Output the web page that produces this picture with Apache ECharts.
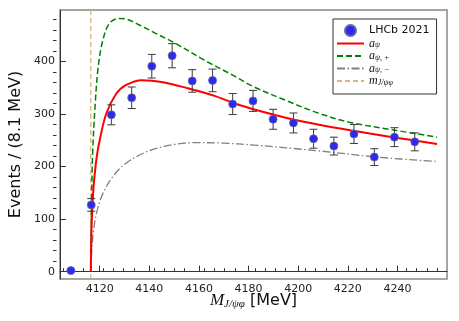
<!DOCTYPE html>
<html><head><meta charset="utf-8">
<script src="https://cdn.jsdelivr.net/npm/echarts@6/dist/echarts.min.js"></script>
<style>html,body{margin:0;padding:0;background:#fff}#c{width:459px;height:321px}</style>
</head><body><div id="c"></div>
<script>
// ---- data ----
const massBins = [4108.4, 4116.6, 4124.7, 4132.9, 4141.0, 4149.2, 4157.3, 4165.5, 4173.6, 4181.8, 4189.9, 4198.1, 4206.2, 4214.4, 4222.5, 4230.7, 4238.8, 4247.0];
const events   = [2, 127, 298.5, 331, 391, 411, 363, 364, 319, 325, 290, 283, 253, 239, 262, 218, 256, 247];
const eventErr = [1.4, 12, 19, 20.5, 22.5, 23, 21.5, 21.5, 20, 20, 19, 19, 18, 17, 18, 16, 18, 17];
const curveA = [[4116.4,0],[4116.7,80],[4117.1,127],[4117.6,165],[4118.7,215],[4120.0,250],[4122.6,300],[4126.6,338],[4130.5,355],[4137.0,364.5],[4146.0,360],[4155.5,349],[4166.0,335],[4174.0,321],[4182.0,309],[4197.5,290],[4209.0,279],[4221.0,269],[4238.0,256],[4256.0,243]];
const curvePlus = [[4116.4,0],[4116.8,150],[4117.2,231],[4118.2,320],[4119.4,390],[4121.3,441],[4124.0,473],[4127.9,482],[4130.5,481],[4135.8,470],[4142.4,454],[4150.3,435],[4162.0,403],[4174.0,373],[4182.0,352],[4195.0,326],[4208.0,302],[4221.0,284],[4238.0,270],[4256.0,256]];
const curveMinus = [[4116.4,0],[4116.8,40],[4117.4,73],[4118.7,111],[4121.3,149],[4125.3,181],[4130.5,206],[4137.0,224],[4142.4,234],[4150.0,242],[4158.0,245.5],[4170.0,244.5],[4182.0,241],[4208.0,230],[4232.0,218],[4256.0,209.5]];
const threshold = 4116.4;
const X_MIN = 4104, X_MAX = 4260, Y_MIN = -14, Y_MAX = 498;
const xMajor = [4120, 4140, 4160, 4180, 4200, 4220, 4240];
const xMinor = [4108, 4112, 4116, 4124, 4128, 4132, 4136, 4144, 4148, 4152, 4156, 4164, 4168, 4172, 4176, 4184, 4188, 4192, 4196, 4204, 4208, 4212, 4216, 4224, 4228, 4232, 4236, 4244, 4248, 4252, 4256];
const yMajor = [0, 100, 200, 300, 400];
const yMinor = [20, 40, 60, 80, 120, 140, 160, 180, 220, 240, 260, 280, 320, 340, 360, 380, 420, 440, 460, 480];
const legendLabels = {
  'LHCb 2021': '{t|LHCb 2021}',
  'a_psi': '{a|a}{s|ψ}',
  'a_psi_plus': '{a|a}{s|ψ, +}',
  'a_psi_minus': '{a|a}{s|ψ, −}',
  'm_thr': '{a|m}{s|J/ψφ}'
};

const chart = echarts.init(document.getElementById('c'), null, {renderer: 'canvas'});
const rect = {left: 53, top: 10, width: 394, height: 269};
const tickFont = {fontFamily: 'DejaVu Sans', fontSize: 11, color: '#222', formatter: v => String(v)};
const serifI = 'Liberation Serif';
const noSym = {opacity: 0};

chart.setOption({
  animation: false,
  backgroundColor: '#fff',
  grid: [
    Object.assign({show: true, borderColor: '#888', borderWidth: 1.5, backgroundColor: 'transparent'}, rect),
    Object.assign({show: false}, rect)
  ],
  xAxis: [
    {
      type: 'value', gridIndex: 0, min: X_MIN, max: X_MAX,
      axisLine: {show: true, lineStyle: {color: '#333', width: 1}},
      axisTick: {show: true, inside: true, length: 6, customValues: xMajor, lineStyle: {color: '#333'}},
      axisLabel: Object.assign({customValues: xMajor, margin: 5}, tickFont),
      splitLine: {show: false},
      name: '{m|M}{s|J/ψφ}{u| [MeV]}',
      nameLocation: 'middle', nameGap: 13, nameMoveOverlap: false,
      nameTextStyle: {
        rich: {
          m: {fontFamily: serifI, fontStyle: 'italic', fontSize: 17, lineHeight: 18, color: '#111'},
          s: {fontFamily: serifI, fontStyle: 'italic', fontSize: 11, lineHeight: 6, verticalAlign: 'bottom', color: '#111'},
          u: {fontFamily: 'DejaVu Sans', fontSize: 16, lineHeight: 18, color: '#111'}
        }
      }
    },
    {
      type: 'value', gridIndex: 1, min: X_MIN, max: X_MAX,
      axisLine: {show: false},
      axisTick: {show: true, inside: true, length: 3.5, customValues: xMinor, lineStyle: {color: '#333'}},
      axisLabel: {show: false},
      splitLine: {show: false}
    }
  ],
  yAxis: [
    {
      type: 'value', gridIndex: 0, min: Y_MIN, max: Y_MAX,
      axisLine: {show: true, lineStyle: {color: '#333', width: 1}},
      axisTick: {show: true, inside: true, length: 6, customValues: yMajor, lineStyle: {color: '#333'}},
      axisLabel: Object.assign({customValues: yMajor, margin: 5}, tickFont),
      splitLine: {show: false},
      name: 'Events / (8.1 MeV)', nameLocation: 'middle', nameRotate: 90, nameGap: 36, nameMoveOverlap: false,
      nameTextStyle: {fontFamily: 'DejaVu Sans', fontSize: 16, color: '#111'}
    },
    {
      type: 'value', gridIndex: 1, min: Y_MIN, max: Y_MAX,
      axisLine: {show: false},
      axisTick: {show: true, inside: true, length: 3.5, customValues: yMinor, lineStyle: {color: '#333'}},
      axisLabel: {show: false},
      splitLine: {show: false}
    }
  ],
  legend: {
    left: 333, top: 19, orient: 'vertical', align: 'left',
    padding: [5, 7, 7, 3],
    itemWidth: 27, itemHeight: 11, itemGap: 0.5,
    backgroundColor: '#fff', borderColor: '#333', borderWidth: 1,
    data: [
      {name: 'LHCb 2021'},
      {name: 'a_psi', itemStyle: noSym},
      {name: 'a_psi_plus', itemStyle: noSym},
      {name: 'a_psi_minus', itemStyle: noSym},
      {name: 'm_thr', itemStyle: noSym}
    ],
    formatter: n => legendLabels[n],
    textStyle: {
      fontFamily: 'DejaVu Sans', fontSize: 11, color: '#111',
      rich: {
        t: {fontFamily: 'DejaVu Sans', fontSize: 11, lineHeight: 13, color: '#111'},
        a: {fontFamily: serifI, fontStyle: 'italic', fontSize: 12, lineHeight: 11, color: '#111'},
        s: {fontFamily: serifI, fontStyle: 'italic', fontSize: 8, lineHeight: 3, verticalAlign: 'bottom', color: '#111'}
      }
    }
  },
  series: [
    {
      name: 'a_psi_minus', type: 'line', symbol: 'none', smooth: 0.35,
      data: curveMinus, z: 2,
      lineStyle: {color: '#808080', width: 1.3, type: [8, 2.5, 1.5, 2.5]}, itemStyle: {color: '#808080'}
    },
    {
      name: 'a_psi_plus', type: 'line', symbol: 'none', smooth: 0.35,
      data: curvePlus, z: 2,
      lineStyle: {color: '#008000', width: 1.5, type: [6, 3]}, itemStyle: {color: '#008000'}
    },
    {
      name: 'a_psi', type: 'line', symbol: 'none', smooth: 0.35,
      data: curveA, z: 2,
      lineStyle: {color: '#ff0000', width: 2}, itemStyle: {color: '#ff0000'}
    },
    {
      name: 'm_thr', type: 'line', symbol: 'none',
      data: [[threshold, Y_MIN], [threshold, Y_MAX]], z: 1,
      lineStyle: {color: '#d2b48c', width: 1.3, type: [5, 3]}, itemStyle: {color: '#d2b48c'}
    },
    {
      name: 'errors', type: 'custom', z: 3,
      data: massBins.map((m, i) => [m, events[i], eventErr[i]]),
      renderItem: function (params, api) {
        const x = api.value(0), y = api.value(1), e = api.value(2);
        const top = api.coord([x, y + e]);
        const bot = api.coord([x, y - e]);
        const cap = 4;
        const st = {stroke: '#3a3a3a', lineWidth: 1};
        return {type: 'group', children: [
          {type: 'line', shape: {x1: top[0], y1: top[1], x2: bot[0], y2: bot[1]}, style: st},
          {type: 'line', shape: {x1: top[0] - cap, y1: top[1], x2: top[0] + cap, y2: top[1]}, style: st},
          {type: 'line', shape: {x1: bot[0] - cap, y1: bot[1], x2: bot[0] + cap, y2: bot[1]}, style: st}
        ]};
      }
    },
    {
      name: 'LHCb 2021', type: 'scatter', z: 4,
      data: massBins.map((m, i) => [m, events[i]]),
      symbol: 'circle', symbolSize: 8,
      itemStyle: {color: '#2a2af2', borderColor: '#6a6a8a', borderWidth: 0.8, opacity: 1}
    }
  ]
});
</script></body></html>
